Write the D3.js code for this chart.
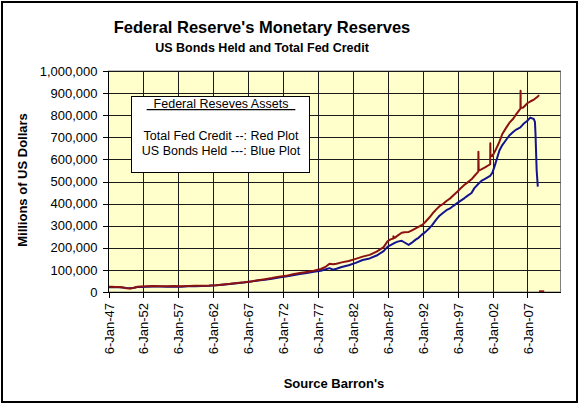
<!DOCTYPE html>
<html><head><meta charset="utf-8">
<script src="https://cdn.jsdelivr.net/npm/d3@7"></script>
<style>body{margin:0;background:#fff}svg{display:block}text{font-family:Arial,"Liberation Sans",sans-serif}</style>
</head><body><svg id="c" width="581" height="408"></svg>
<script>
const titleText = "Federal Reserve's Monetary Reserves";
const subtitleText = "US Bonds Held and Total Fed Credit";
const yAxisTitle = "Millions of US Dollars";
const xAxisTitle = "Source Barron's";
const legendTitle = "\u00a0\u00a0Federal Reseves Assets\u00a0\u00a0";
const legendLines = ["Total Fed Credit --: Red Plot", "US Bonds Held ---: Blue Plot"];
const yTicks = [0,100000,200000,300000,400000,500000,600000,700000,800000,900000,1000000];
const xTickYears = [1947,1952,1957,1962,1967,1972,1977,1982,1987,1992,1997,2002,2007];

const redDates = ["1947-01-06","1947-07-01","1948-01-01","1948-07-01","1949-01-01","1949-08-01","1950-03-01","1950-09-01","1951-03-01","1951-09-01","1952-06-01","1953-06-01","1954-06-01","1955-06-01","1956-06-01","1957-06-01","1958-06-01","1959-06-01","1960-06-01","1961-06-01","1962-06-01","1963-06-01","1964-06-01","1965-06-01","1966-06-01","1967-06-01","1968-06-01","1969-06-01","1970-06-01","1971-06-01","1972-06-01","1973-06-01","1974-06-01","1975-06-01","1976-06-01","1977-06-01","1978-03-01","1978-09-01","1979-03-01","1979-09-01","1980-06-01","1981-06-01","1982-06-01","1983-06-01","1984-06-01","1985-06-01","1986-06-01","1987-01-01","1987-06-01","1987-10-21","1987-10-28","1988-01-01","1988-06-01","1989-01-01","1989-06-01","1990-01-01","1990-06-01","1991-01-01","1991-06-01","1992-01-01","1992-06-01","1993-01-01","1993-06-01","1994-01-01","1994-06-01","1995-01-01","1995-06-01","1996-01-01","1996-06-01","1997-01-01","1997-06-01","1998-01-01","1998-06-01","1999-01-01","1999-06-01","1999-12-22","1999-12-29","2000-01-12","2000-06-01","2001-01-01","2001-09-05","2001-09-12","2001-09-19","2002-01-01","2002-06-01","2003-01-01","2003-06-01","2004-01-01","2004-06-01","2005-01-01","2005-06-01","2006-01-04","2006-01-11","2006-01-18","2006-06-01","2007-01-01","2007-06-01","2008-01-01","2008-06-01","2008-09-10"];
const redValues = [24000,23500,23000,23000,21000,17000,16000,19000,24000,25000,26000,27000,26000,26500,27000,26500,27500,28500,28000,29000,31000,34000,37000,41000,44000,48000,53000,58000,63000,69000,73000,80000,86000,91000,96000,104000,115000,128000,126000,128000,134000,140000,150000,160000,168000,183000,203000,230000,238000,242000,252000,245000,255000,268000,270000,272000,278000,288000,295000,305000,318000,338000,355000,375000,388000,400000,412000,425000,438000,455000,468000,485000,495000,510000,525000,545000,635000,550000,555000,565000,578000,673000,620000,615000,640000,680000,715000,745000,765000,785000,805000,830000,911000,832000,835000,854000,862000,872000,882000,891000];

const blueDates = ["1947-01-06","1947-07-01","1948-01-01","1948-07-01","1949-01-01","1949-08-01","1950-03-01","1950-09-01","1951-03-01","1951-09-01","1952-06-01","1953-06-01","1954-06-01","1955-06-01","1956-06-01","1957-06-01","1958-06-01","1959-06-01","1960-06-01","1961-06-01","1962-06-01","1963-06-01","1964-06-01","1965-06-01","1966-06-01","1967-06-01","1968-06-01","1969-06-01","1970-06-01","1971-06-01","1972-06-01","1973-06-01","1974-06-01","1975-06-01","1976-06-01","1977-06-01","1978-03-01","1978-09-01","1979-03-01","1979-09-01","1980-06-01","1981-06-01","1982-06-01","1983-06-01","1984-06-01","1985-06-01","1986-06-01","1987-01-01","1987-06-01","1988-01-01","1988-06-01","1989-01-01","1989-06-01","1990-01-01","1990-06-01","1991-01-01","1991-06-01","1992-01-01","1992-06-01","1993-01-01","1993-06-01","1994-01-01","1994-06-01","1995-01-01","1995-06-01","1996-01-01","1996-06-01","1997-01-01","1997-06-01","1998-01-01","1998-06-01","1999-01-01","1999-06-01","2000-01-01","2000-06-01","2001-01-01","2001-09-01","2002-01-01","2002-06-01","2003-01-01","2003-06-01","2004-01-01","2004-06-01","2005-01-01","2005-06-01","2006-01-01","2006-06-01","2007-01-01","2007-06-01","2007-12-01","2008-02-01","2008-03-01","2008-05-01","2008-07-01"];
const blueValues = [22000,21500,21000,21000,20000,18000,17500,19000,22500,23000,23500,25000,24500,23800,24000,23500,25500,26500,26800,28000,30000,33000,36000,40000,43000,47000,52000,55000,60000,66000,70000,76000,81000,86000,92000,96000,103000,108000,101000,105000,113000,121000,132000,145000,152000,165000,185000,205000,212000,222000,228000,232000,224000,213000,222000,237000,245000,262000,272000,290000,305000,330000,345000,360000,370000,380000,390000,403000,412000,425000,435000,448000,470000,490000,503000,513000,525000,540000,580000,640000,665000,690000,708000,725000,735000,745000,760000,775000,789000,783000,770000,719000,552000,477000];

const extraDates = ["2008-09-01","2009-06-01"];
const extraValues = [3000,3000];

const svg = d3.select("#c");
const plot = {l:108.5, r:560.5, t:71, b:292};
const parse = d3.timeParse("%Y-%m-%d");
const FONT = "Arial, 'Liberation Sans', sans-serif";

svg.append("rect").attr("x",2).attr("y",2).attr("width",575).attr("height",400)
  .attr("fill","#fff").attr("stroke","#000").attr("stroke-width",2);

const x = d3.scaleTime().domain([parse("1947-01-06"), parse("2011-10-01")]).range([plot.l, plot.r]);
const y = d3.scaleLinear().domain([0,1000000]).range([plot.b, plot.t]);

svg.append("rect").attr("x",plot.l).attr("y",plot.t).attr("width",plot.r-plot.l).attr("height",plot.b-plot.t)
  .attr("fill","#ffffcc").attr("stroke","#808080").attr("stroke-width",1);

const xTickDates = xTickYears.map(yr => new Date(yr,0,6));
const px = v => Math.round(v) + 0.5;

// gridlines as thin rects
svg.append("g").selectAll("rect").data(yTicks.slice(1)).join("rect")
  .attr("x",plot.l).attr("width",plot.r-plot.l).attr("y",d=>Math.round(y(d))).attr("height",1)
  .attr("fill","#1a1a1a");
svg.append("g").selectAll("rect").data(xTickDates.slice(1)).join("rect")
  .attr("y",plot.t).attr("height",plot.b-plot.t).attr("x",d=>Math.round(x(d))).attr("width",1)
  .attr("fill","#1a1a1a");

function series(dates, values){ return dates.map((d,i)=>({date:parse(d), v:values[i]})); }
const line = d3.line().x(d=>x(d.date)).y(d=>y(d.v));
svg.append("path").datum(series(blueDates,blueValues)).attr("d",line)
  .attr("fill","none").attr("stroke","#14148f").attr("stroke-width",2).attr("stroke-linejoin","round");
svg.append("path").datum(series(redDates,redValues)).attr("d",line)
  .attr("fill","none").attr("stroke","#8c1212").attr("stroke-width",2).attr("stroke-linejoin","round");
svg.append("path").datum(series(extraDates,extraValues)).attr("d",line)
  .attr("fill","none").attr("stroke","#8c1212").attr("stroke-width",2);

const fmt = d3.format(",");
const yAxis = svg.append("g").attr("transform",`translate(${plot.l},0)`)
  .call(d3.axisLeft(y).tickValues(yTicks).tickFormat(fmt).tickSize(0).tickPadding(11));
yAxis.select(".domain").remove();
yAxis.selectAll("text").attr("font-size",13).attr("fill","#000").style("font-family",FONT);

const mon = ["Jan","Feb","Mar","Apr","May","Jun","Jul","Aug","Sep","Oct","Nov","Dec"];
const xAxis = svg.append("g").attr("transform",`translate(0,${plot.b})`)
  .call(d3.axisBottom(x).tickValues(xTickDates).tickSize(0)
    .tickFormat(d => d.getDate()+"-"+mon[d.getMonth()]+"-"+String(d.getFullYear()).slice(2)));
xAxis.select(".domain").remove();
xAxis.selectAll(".tick text").attr("font-size",13).attr("fill","#000").style("font-family",FONT)
  .attr("text-anchor","end").attr("transform","rotate(-90)")
  .attr("x",-11).attr("y",0).attr("dy","0.35em");

// axis lines and tick marks as rects
const ax = svg.append("g").attr("fill","#000");
ax.append("rect").attr("x",Math.round(plot.l)-1).attr("y",plot.t).attr("width",1).attr("height",plot.b-plot.t+1);
ax.append("rect").attr("x",Math.round(plot.l)-1).attr("y",plot.b).attr("width",plot.r-plot.l+1).attr("height",1);
ax.selectAll("rect.yt").data(yTicks).join("rect").attr("class","yt")
  .attr("x",Math.round(plot.l)-6).attr("width",5).attr("y",d=>Math.round(y(d))).attr("height",1);
ax.selectAll("rect.xt").data(xTickDates).join("rect").attr("class","xt")
  .attr("x",d=>Math.round(x(d))).attr("width",1).attr("y",plot.b).attr("height",6);

// legend
const lg = svg.append("g");
lg.append("rect").attr("x",131.5).attr("y",96.5).attr("width",178).attr("height",76)
  .attr("fill","#fff").attr("stroke","#000").attr("stroke-width",1);
lg.append("text").attr("x",221).attr("y",108).attr("text-anchor","middle").attr("font-size",12.5)
  .style("text-decoration","underline").text(legendTitle);
lg.selectAll("text.l").data(legendLines).join("text").attr("class","l")
  .attr("x",221).attr("y",(d,i)=>140+i*15).attr("text-anchor","middle").attr("font-size",12.5).text(d=>d);

svg.append("text").attr("x",262).attr("y",33).attr("text-anchor","middle")
  .attr("font-size",16.5).attr("font-weight","bold").text(titleText);
svg.append("text").attr("x",262).attr("y",52).attr("text-anchor","middle")
  .attr("font-size",12.5).attr("font-weight","bold").text(subtitleText);
svg.append("text").attr("transform","translate(27,180) rotate(-90)").attr("text-anchor","middle")
  .attr("font-size",13).attr("font-weight","bold").text(yAxisTitle);
svg.append("text").attr("x",334).attr("y",388).attr("text-anchor","middle")
  .attr("font-size",13).attr("font-weight","bold").text(xAxisTitle);
</script></body></html>
